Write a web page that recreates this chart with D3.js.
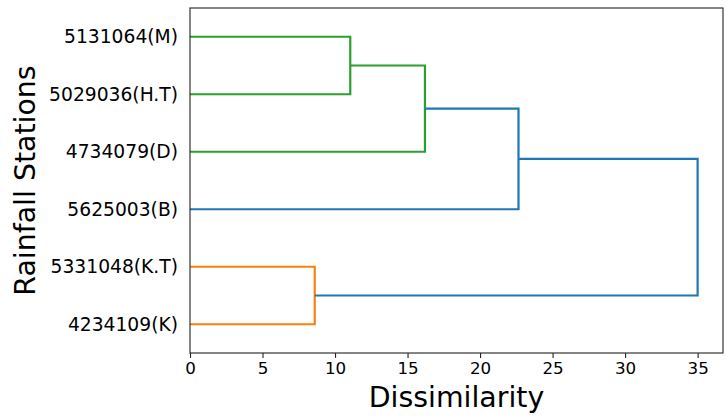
<!DOCTYPE html>
<html>
<head>
<meta charset="utf-8">
<script src="https://cdn.jsdelivr.net/npm/d3@7"></script>
<style>
  body { margin: 0; background: #fff; }
  svg { display: block; font-family: "DejaVu Sans", sans-serif; }
</style>
</head>
<body>
<svg id="chart" width="726" height="418"></svg>
<script>
// Leaves listed bottom to top, as the dendrogram lays them out
const leaves = ["4234109(K)", "5331048(K.T)", "5625003(B)", "4734079(D)", "5029036(H.T)", "5131064(M)"];

// Merges in linkage order: child ids (leaf index or 6 + merge index), distance
const mergeLeft = [0, 4, 3, 2, 6];
const mergeRight = [1, 5, 7, 8, 9];
const mergeDist = [8.6, 11.05, 16.2, 22.65, 35.0];
const mergeColor = ["#ff7f0e", "#2ca02c", "#2ca02c", "#1f77b4", "#1f77b4"];

const xTicks = [0, 5, 10, 15, 20, 25, 30, 35];

const chart = d3.select("#chart");
const margin = { top: 8, right: 3, bottom: 65, left: 190 };
const width = +chart.attr("width");
const height = +chart.attr("height");

const x = d3.scaleLinear()
  .domain([0, d3.max(mergeDist) * 1.05])
  .range([margin.left, width - margin.right]);

const y = d3.scaleLinear()
  .domain([0, leaves.length * 10])
  .range([height - margin.bottom, margin.top]);

// position (leaf order) and height of every node
const nodePos = leaves.map((d, i) => 5 + i * 10);
const nodeHeight = leaves.map(() => 0);
const links = mergeDist.map((dist, i) => {
  const a = mergeLeft[i], b = mergeRight[i];
  nodePos.push((nodePos[a] + nodePos[b]) / 2);
  nodeHeight.push(dist);
  return [
    [nodeHeight[a], nodePos[a]],
    [dist, nodePos[a]],
    [dist, nodePos[b]],
    [nodeHeight[b], nodePos[b]],
    mergeColor[i]
  ];
});

const line = d3.line().x(d => x(d[0])).y(d => y(d[1]));

chart.append("g")
  .selectAll("path")
  .data(links)
  .join("path")
    .attr("d", d => line(d.slice(0, 4)))
    .attr("fill", "none")
    .attr("stroke", d => d[4])
    .attr("stroke-width", 2.2);

// frame
chart.append("rect")
  .attr("x", margin.left)
  .attr("y", margin.top)
  .attr("width", width - margin.right - margin.left)
  .attr("height", height - margin.bottom - margin.top)
  .attr("fill", "none")
  .attr("stroke", "#222")
  .attr("stroke-width", 1.1);

const xAxis = chart.append("g")
  .attr("transform", `translate(0,${height - margin.bottom})`)
  .call(d3.axisBottom(x).tickValues(xTicks).tickSize(4.9).tickPadding(4.5));
xAxis.select(".domain").remove();
xAxis.selectAll(".tick line").attr("stroke", "#222").attr("stroke-width", 1.1);
xAxis.selectAll("text").attr("font-size", 16.7).attr("font-family", "DejaVu Sans").attr("fill", "#000");

const yScaleBand = d3.scaleOrdinal()
  .domain(leaves)
  .range(leaves.map((d, i) => y(5 + i * 10)));

const yAxis = chart.append("g")
  .attr("transform", `translate(${margin.left},0)`)
  .call(d3.axisLeft(yScaleBand).tickSize(0).tickPadding(12));
yAxis.select(".domain").remove();
yAxis.selectAll("text").attr("font-size", 18.7).attr("font-family", "DejaVu Sans").attr("fill", "#000");

chart.append("text")
  .attr("x", (margin.left + width - margin.right) / 2)
  .attr("y", 407)
  .attr("text-anchor", "middle")
  .attr("font-size", 28.4)
  .text("Dissimilarity");

chart.append("text")
  .attr("transform", `translate(35,${(margin.top + height - margin.bottom) / 2}) rotate(-90)`)
  .attr("text-anchor", "middle")
  .attr("font-size", 28.4)
  .text("Rainfall Stations");
</script>
</body>
</html>
